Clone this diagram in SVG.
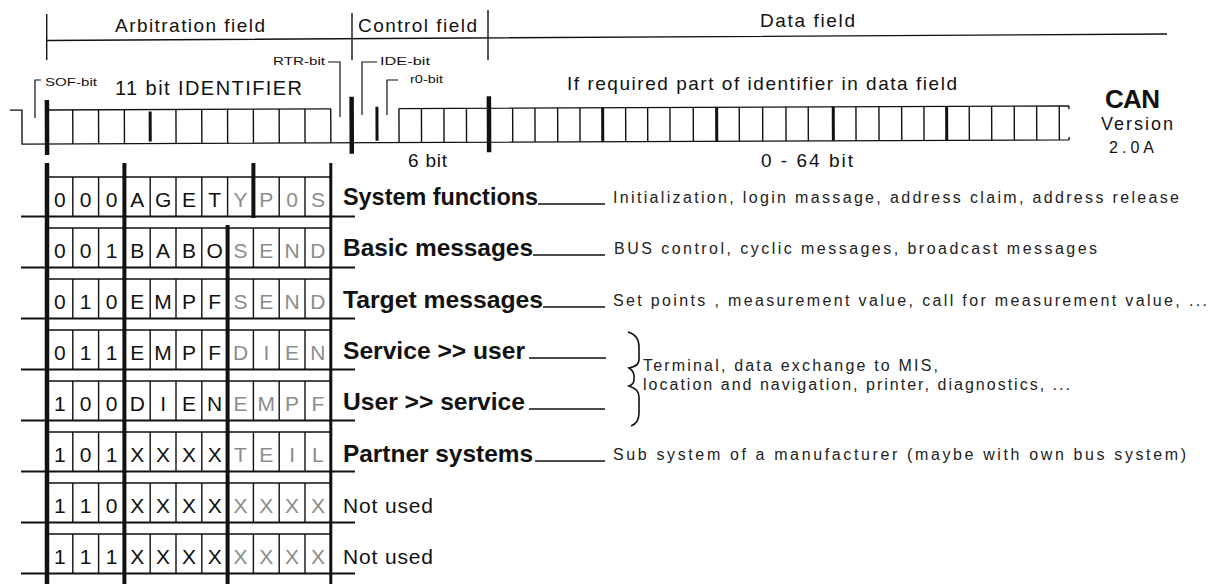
<svg xmlns="http://www.w3.org/2000/svg" width="1212" height="584" viewBox="0 0 1212 584">
<style>
text{font-family:"Liberation Sans",Arial,sans-serif;fill:#111}
.ln{stroke:#111;stroke-width:1.4;fill:none}
.br{stroke:#111;stroke-width:1.2;fill:none}
.med{stroke:#111;stroke-width:3;fill:none}
.thk{stroke:#111;stroke-width:4.5;fill:none}
.hd{font-size:19px}
.sm{font-size:11px}
.cell{font-size:21px;text-anchor:middle}
.g{fill:#8c8c8c}
.lbl{font-size:24px;font-weight:bold}
.nu{font-size:21px}
.desc{font-size:16px;fill:#222}
</style>
<defs>
<g id="rowgrid">
<path class="ln" d="M47,0H330.8M72.8,0V39.5M98.6,0V39.5M150.2,0V39.5M176,0V39.5M201.8,0V39.5M227.6,0V39.5M253.4,0V39.5M279.2,0V39.5M305,0V39.5"/>
<path d="M21,39.5H355" stroke="#111" stroke-width="2" fill="none"/>
</g>
</defs>
<rect width="1212" height="584" fill="#fff"/>

<g id="header">
<path class="ln" d="M46.7,14V60M352,13V60M488,10V60M46,40.5L1167,34"/>
<text class="hd" x="115" y="32" textLength="150" lengthAdjust="spacing">Arbitration field</text>
<text class="hd" x="358" y="32" textLength="119" lengthAdjust="spacing">Control field</text>
<text class="hd" x="760" y="27" textLength="95" lengthAdjust="spacing">Data field</text>
</g>

<g id="bitstream" transform="rotate(-0.23 47 127)">
<path class="ln" d="M10,110H22V144H1069M47,110H330.8M399,110H1069M1069,110v3M1069,144v-3"/>
<path class="ln" d="M72.8,110V144M98.6,110V144M124.4,110V144M176,110V144M201.8,110V144M227.6,110V144M253.4,110V144M279.2,110V144M305,110V144M330.8,110V144M399,110V144M421.5,110V144M444,110V144M466.5,110V144M512.7,110V144M535,110V144M557.7,110V144M580,110V144M625.7,110V144M647.7,110V144M670,110V144M693.3,110V144M739.3,110V144M762.7,110V144M786,110V144M808.3,110V144M856,110V144M879,110V144M901.7,110V144M924,110V144M969.3,110V144M991.7,110V144M1014.3,110V144M1036.7,110V144M1059.3,110V144"/>
<path class="med" d="M150.2,112V142M377,108V142M602.7,110V144M716.7,110V144M833.3,110V144M946.7,110V144"/>
<path class="thk" d="M47,100V155M351.7,98V155M489,98V154"/>
</g>

<g id="bit-labels">
<path class="br" d="M41,80H35V118M328,62H340V117M377,62H362V115M398,80H387V115"/>
<text class="sm" x="45" y="86" textLength="52" lengthAdjust="spacingAndGlyphs">SOF-bit</text>
<text class="sm" x="273" y="65" textLength="52" lengthAdjust="spacingAndGlyphs">RTR-bit</text>
<text class="sm" x="380" y="65" textLength="50" lengthAdjust="spacingAndGlyphs">IDE-bit</text>
<text class="sm" x="410" y="83" textLength="33" lengthAdjust="spacingAndGlyphs">r0-bit</text>
<text style="font-size:20px" x="115" y="95" textLength="187" lengthAdjust="spacing">11 bit IDENTIFIER</text>
<text class="hd" x="567" y="90" textLength="390" lengthAdjust="spacing">If required part of identifier in data field</text>
<text class="hd" x="408" y="167" textLength="39" lengthAdjust="spacing">6 bit</text>
<text class="hd" x="761" y="167" textLength="92" lengthAdjust="spacing">0 - 64 bit</text>
</g>

<g id="can-version">
<text x="1105" y="108" style="font-size:26px;font-weight:bold" textLength="55" lengthAdjust="spacing">CAN</text>
<text x="1101" y="130" style="font-size:18px" textLength="72" lengthAdjust="spacing">Version</text>
<text x="1109" y="153" style="font-size:16px" textLength="45" lengthAdjust="spacing">2.0A</text>
</g>

<g id="table-grid">
<use href="#rowgrid" y="177"/>
<use href="#rowgrid" y="228"/>
<use href="#rowgrid" y="279"/>
<use href="#rowgrid" y="330"/>
<use href="#rowgrid" y="381"/>
<use href="#rowgrid" y="432"/>
<use href="#rowgrid" y="483"/>
<use href="#rowgrid" y="534"/>
<path d="M47,163V584" stroke="#111" stroke-width="4.5"/>
<path d="M124.4,163V584M253.4,163V218M227.6,225V584" stroke="#111" stroke-width="4"/>
<path d="M330.8,163V584" stroke="#111" stroke-width="3"/>
</g>

<g id="row-system">
<text class="cell" y="207"><tspan x="59.9 85.7 111.5 137.3 163.1 188.9 214.7">000AGET</tspan><tspan class="g" x="240.5 266.3 292.1 317.9">YP0S</tspan></text>
<text class="lbl" x="343" y="205" textLength="195" lengthAdjust="spacingAndGlyphs">System functions</text>
<text class="desc" x="613" y="203" textLength="566" lengthAdjust="spacing">Initialization, login massage, address claim, address release</text>
</g>
<g id="row-basic">
<text class="cell" y="258"><tspan x="59.9 85.7 111.5 137.3 163.1 188.9 214.7">001BABO</tspan><tspan class="g" x="240.5 266.3 292.1 317.9">SEND</tspan></text>
<text class="lbl" x="343" y="256" textLength="190" lengthAdjust="spacingAndGlyphs">Basic messages</text>
<text class="desc" x="614" y="254" textLength="483" lengthAdjust="spacing">BUS control, cyclic messages, broadcast messages</text>
</g>
<g id="row-target">
<text class="cell" y="309"><tspan x="59.9 85.7 111.5 137.3 163.1 188.9 214.7">010EMPF</tspan><tspan class="g" x="240.5 266.3 292.1 317.9">SEND</tspan></text>
<text class="lbl" x="343" y="308" textLength="200" lengthAdjust="spacingAndGlyphs">Target messages</text>
<text class="desc" x="613" y="306" textLength="594" lengthAdjust="spacing">Set points , measurement value, call for measurement value, ...</text>
</g>
<g id="row-service-user">
<text class="cell" y="360"><tspan x="59.9 85.7 111.5 137.3 163.1 188.9 214.7">011EMPF</tspan><tspan class="g" x="240.5 266.3 292.1 317.9">DIEN</tspan></text>
<text class="lbl" x="343" y="359" textLength="182" lengthAdjust="spacingAndGlyphs">Service &gt;&gt; user</text>
</g>
<g id="row-user-service">
<text class="cell" y="411"><tspan x="59.9 85.7 111.5 137.3 163.1 188.9 214.7">100DIEN</tspan><tspan class="g" x="240.5 266.3 292.1 317.9">EMPF</tspan></text>
<text class="lbl" x="343" y="410" textLength="182" lengthAdjust="spacingAndGlyphs">User &gt;&gt; service</text>
</g>
<g id="service-desc">
<path class="ln" style="stroke-width:1.6" d="M628,332Q639,335 639,347V360Q639,366 629,368Q634,371 634,376V380Q634,384 629,386Q639,389 639,397V413Q639,423 631,426"/>
<text class="desc" x="643" y="371" textLength="295" lengthAdjust="spacing">Terminal, data exchange to MIS,</text>
<text class="desc" x="643" y="390" textLength="427" lengthAdjust="spacing">location and navigation, printer, diagnostics, ...</text>
</g>
<g id="row-partner">
<text class="cell" y="462"><tspan x="59.9 85.7 111.5 137.3 163.1 188.9 214.7">101XXXX</tspan><tspan class="g" x="240.5 266.3 292.1 317.9">TEIL</tspan></text>
<text class="lbl" x="343" y="462" textLength="190" lengthAdjust="spacingAndGlyphs">Partner systems</text>
<text class="desc" x="613" y="460" textLength="573" lengthAdjust="spacing">Sub system of a manufacturer (maybe with own bus system)</text>
</g>
<g id="row-unused-1">
<text class="cell" y="513"><tspan x="59.9 85.7 111.5 137.3 163.1 188.9 214.7">110XXXX</tspan><tspan class="g" x="240.5 266.3 292.1 317.9">XXXX</tspan></text>
<text class="nu" x="343" y="513" textLength="90" lengthAdjust="spacing">Not used</text>
</g>
<g id="row-unused-2">
<text class="cell" y="564"><tspan x="59.9 85.7 111.5 137.3 163.1 188.9 214.7">111XXXX</tspan><tspan class="g" x="240.5 266.3 292.1 317.9">XXXX</tspan></text>
<text class="nu" x="343" y="564" textLength="90" lengthAdjust="spacing">Not used</text>
</g>

<g id="connectors">
<path class="ln" d="M538,204H605M533,255H605M543,307H605M529,358H606M529,409H605M535,461H605"/>
</g>
</svg>
